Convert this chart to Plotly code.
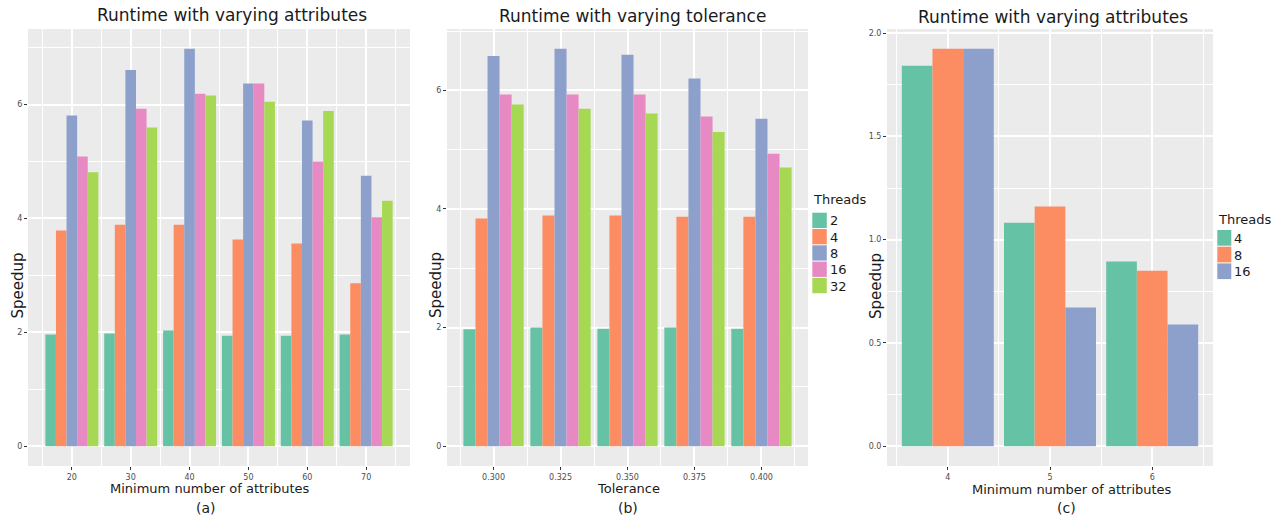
import plotly.graph_objects as go

W, H = 1273, 517
FONT = "DejaVu Sans"

# ---------------- data ----------------
colors5 = ["#66C2A5", "#FC8D62", "#8DA0CB", "#E78AC3", "#A6D854"]
threads_ab = ["2", "4", "8", "16", "32"]
threads_c = ["4", "8", "16"]

# (a) varying attributes
attrs_a = [20, 30, 40, 50, 60, 70]
a_t2 = [1.96, 1.98, 2.03, 1.94, 1.94, 1.96]
a_t4 = [3.79, 3.89, 3.89, 3.63, 3.56, 2.86]
a_t8 = [5.81, 6.61, 6.98, 6.37, 5.72, 4.75]
a_t16 = [5.09, 5.93, 6.19, 6.37, 5.00, 4.02]
a_t32 = [4.81, 5.60, 6.16, 6.05, 5.89, 4.31]

# (b) varying tolerance
tol_b = [0.300, 0.325, 0.350, 0.375, 0.400]
b_t2 = [1.97, 2.00, 1.98, 2.00, 1.98]
b_t4 = [3.84, 3.89, 3.89, 3.87, 3.87]
b_t8 = [6.58, 6.70, 6.60, 6.20, 5.52]
b_t16 = [5.93, 5.93, 5.93, 5.56, 4.93]
b_t32 = [5.76, 5.69, 5.61, 5.30, 4.70]

# (c) varying attributes, fewer threads
attrs_c = [4, 5, 6]
c_t4 = [1.842, 1.082, 0.894]
c_t8 = [1.924, 1.160, 0.850]
c_t16 = [1.924, 0.671, 0.589]

a_series = [a_t2, a_t4, a_t8, a_t16, a_t32]
b_series = [b_t2, b_t4, b_t8, b_t16, b_t32]
c_series = [c_t4, c_t8, c_t16]

fig = go.Figure()

for name, col, ys in zip(threads_ab, colors5, a_series):
    fig.add_trace(go.Bar(x=attrs_a, y=ys, name=name, marker=dict(color=col, line=dict(width=0)),
                         xaxis="x", yaxis="y", showlegend=False, offsetgroup=name + "a"))
for name, col, ys in zip(threads_ab, colors5, b_series):
    fig.add_trace(go.Bar(x=tol_b, y=ys, name=name, marker=dict(color=col, line=dict(width=0)),
                         xaxis="x2", yaxis="y2", showlegend=False, offsetgroup=name + "b"))
for name, col, ys in zip(threads_c, colors5[:3], c_series):
    fig.add_trace(go.Bar(x=attrs_c, y=ys, name=name, marker=dict(color=col, line=dict(width=0)),
                         xaxis="x3", yaxis="y3", showlegend=False, offsetgroup=name + "c"))


def xrange(vals):
    step = vals[1] - vals[0]
    lo, hi = min(vals) - 0.45 * step, max(vals) + 0.45 * step
    pad = 0.05 * (hi - lo)
    return [lo - pad, hi + pad]


def yrange(series):
    m = max(max(s) for s in series)
    return [-0.05 * m, 1.05 * m]


def px(x):
    return x / W


def py(y):
    return 1 - y / H


grid = "white"
common_x = dict(showgrid=True, gridcolor=grid, gridwidth=2, zeroline=False, showline=False,
                ticks="outside", ticklen=3, tickcolor="#333333", tickwidth=1,
                tickfont=dict(size=8, color="#4D4D4D", family=FONT), automargin=False)
common_y = dict(common_x)

ydom = [py(466), py(29)]

fig.update_layout(
    width=W, height=H, margin=dict(l=0, r=0, t=0, b=0),
    paper_bgcolor="white", plot_bgcolor="#EBEBEB",
    barmode="group", bargap=0.1, bargroupgap=0, showlegend=False,
    font=dict(family=FONT, color="#1A1A1A"),
    xaxis=dict(common_x, domain=[px(28), px(410)], anchor="y", range=xrange(attrs_a),
               tickvals=attrs_a, minor=dict(dtick=5, tick0=0, showgrid=True, gridcolor=grid, gridwidth=1, ticks="")),
    yaxis=dict(common_y, domain=ydom, anchor="x", range=yrange(a_series), tickvals=[0, 2, 4, 6],
               minor=dict(dtick=1, tick0=0, showgrid=True, gridcolor=grid, gridwidth=1, ticks="")),
    xaxis2=dict(common_x, domain=[px(447), px(808)], anchor="y2", range=xrange(tol_b),
                tickvals=tol_b, tickformat=".3f",
                minor=dict(dtick=0.0125, tick0=0, showgrid=True, gridcolor=grid, gridwidth=1, ticks="")),
    yaxis2=dict(common_y, domain=ydom, anchor="x2", range=yrange(b_series), tickvals=[0, 2, 4, 6],
                minor=dict(dtick=1, tick0=0, showgrid=True, gridcolor=grid, gridwidth=1, ticks="")),
    xaxis3=dict(common_x, domain=[px(887), px(1213)], anchor="y3", range=xrange(attrs_c),
                tickvals=attrs_c, minor=dict(dtick=0.5, tick0=0, showgrid=True, gridcolor=grid, gridwidth=1, ticks="")),
    yaxis3=dict(common_y, domain=ydom, anchor="x3", range=yrange(c_series),
                tickvals=[0, 0.5, 1.0, 1.5, 2.0], tickformat=".1f",
                minor=dict(dtick=0.25, tick0=0, showgrid=True, gridcolor=grid, gridwidth=1, ticks="")),
)

texts = [
    # (text, x, y, size, angle)
    ("Runtime with varying attributes", 232, 15, 17, 0),
    ("Runtime with varying tolerance", 632, 16, 17, 0),
    ("Runtime with varying attributes", 1053, 17, 17, 0),
    ("Minimum number of attributes", 210, 488, 13, 0),
    ("Tolerance", 628, 488, 13, 0),
    ("Minimum number of attributes", 1072, 489, 13, 0),
    ("(a)", 206, 508, 14, 0),
    ("(b)", 628, 508, 14, 0),
    ("(c)", 1066, 508, 14, 0),
    ("Speedup", 17.5, 286, 15, -90),
    ("Speedup", 436, 285, 15, -90),
    ("Speedup", 876, 286, 15, -90),
]
for t, x, y, s, a in texts:
    fig.add_annotation(text=t, x=px(x), y=py(y), xref="paper", yref="paper",
                       xanchor="center", yanchor="middle", showarrow=False, textangle=a,
                       font=dict(size=s, family=FONT, color="#1A1A1A"))


# ggplot-style legends (stacked key blocks) for panels (b) and (c)
def add_legend(names, cols, left, title_y, top, key_w, key_h):
    fig.add_annotation(text="Threads", x=px(left - 1), y=py(title_y), xref="paper", yref="paper",
                       xanchor="left", yanchor="middle", showarrow=False,
                       font=dict(size=13, family=FONT, color="#1A1A1A"))
    for i, (n, c) in enumerate(zip(names, cols)):
        y0 = top + i * key_h
        fig.add_shape(type="rect", xref="paper", yref="paper",
                      x0=px(left), x1=px(left + key_w), y0=py(y0 + key_h - 1), y1=py(y0),
                      fillcolor=c, line=dict(width=0))
        fig.add_annotation(text=n, x=px(left + key_w + 1), y=py(y0 + key_h / 2), xref="paper", yref="paper",
                           xanchor="left", yanchor="middle", showarrow=False,
                           font=dict(size=13, family=FONT, color="#1A1A1A"))


add_legend(threads_ab, colors5, 812.3, 199.5, 212.7, 14.5, 16.3)
add_legend(threads_c, colors5[:3], 1217.3, 220, 230, 14, 16.7)

fig.write_html("out.html")
